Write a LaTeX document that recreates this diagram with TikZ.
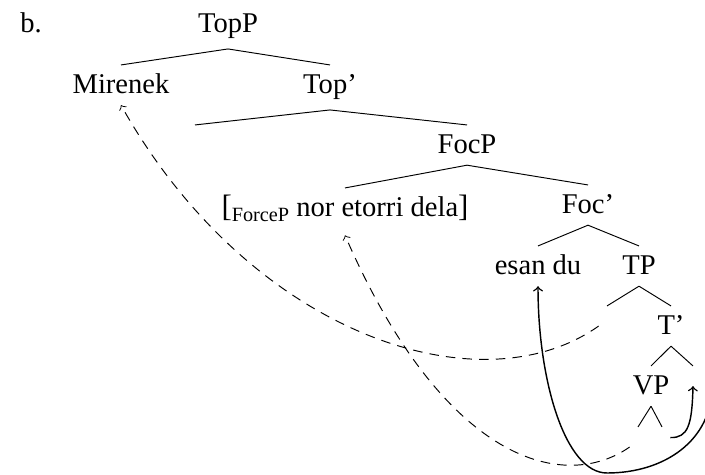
\documentclass[tikz,border=0pt]{standalone}
\usepackage{fontspec}
\setmainfont{Liberation Serif}
\tikzset{
  lbl/.style={font=\fontsize{12}{14}\selectfont, anchor=base, text height=9pt, text depth=1.5pt, inner ysep=3pt},
  mov/.style={->, dash pattern=on 4pt off 3pt},
  hd/.style={->, semithick}
}
\begin{document}
\begin{tikzpicture}[x=0.42pt, y=-0.42pt]
\useasboundingbox (0,0) rectangle (705,475);
\node [lbl, anchor=base west] (ex) at (12,33) {b.};
\node [lbl, text depth=3.5pt] (TopP) at (228,33) {TopP};
\node [lbl] (Mirenek) at (121,94) {Mirenek};
\node [lbl, text depth=3.5pt] (Topbar) at (330,94) {Top'};
\node [lbl] (topx) at (195,154) {};
\node [lbl] (FocP) at (467,154) {FocP};
\node [lbl] (ForceP) at (345,217) {{\fontsize{13}{14}\selectfont[}\raisebox{-2pt}{\fontsize{8.5}{9}\selectfont ForceP} nor etorri dela{\fontsize{13}{14}\selectfont]}};
\node [lbl] (Focbar) at (588,214) {Foc'};
\node [lbl] (esan) at (538,275) {esan du};
\node [lbl] (TP) at (639,275) {TP};
\node [lbl] (tspec) at (607,335) {};
\node [lbl] (Tbar) at (671,335) {T'};
\node [lbl] (VP) at (651,395) {VP};
\node [lbl] (thead) at (693,395) {};
\node [lbl] (vspec) at (638,456) {};
\node [lbl] (vcomp) at (662,456) {};
\coordinate (tout) at ([xshift=8pt]thead.center);
\draw (TopP.south) -- (Mirenek.north);
\draw (TopP.south) -- (Topbar.north);
\draw (Topbar.south) -- (topx.north);
\draw (Topbar.south) -- (FocP.north);
\draw (FocP.south) -- (ForceP.north);
\draw (FocP.south) -- (Focbar.north);
\draw (Focbar.south) -- (esan.north);
\draw (Focbar.south) -- (TP.north);
\draw (TP.south) -- (tspec.north);
\draw (TP.south) -- (Tbar.north);
\draw (Tbar.south) -- (VP.north);
\draw (Tbar.south) -- (thead.north);
\draw (VP.south) -- (vspec.north);
\draw (VP.south) -- (vcomp.north);
\draw [mov] (tspec.west) .. controls (480,410) and (250,335) .. (Mirenek.south);
\draw [mov] (vspec.west) .. controls (565,492) and (445,465) .. ([yshift=-3pt]ForceP.south);
\draw [hd] ([yshift=4pt]vcomp.east) .. controls (688,438) and (692,425) .. (thead.center);
\draw [hd] (tout) .. controls (712,440) and (665,473) .. (607,473) .. controls (565,473) and (538,380) .. (esan.south);
\end{tikzpicture}
\end{document}
